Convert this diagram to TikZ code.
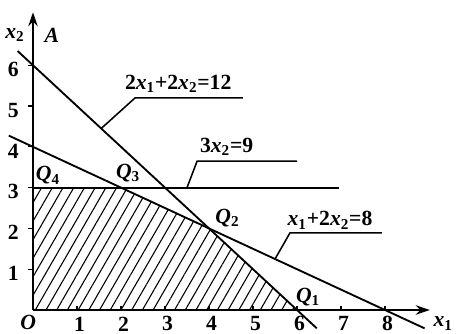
\documentclass[tikz,border=0pt]{standalone}
\usepackage{fontspec}
\setmainfont{Liberation Serif}
\usepackage{tikz}
\usetikzlibrary{arrows.meta,patterns.meta}

\newcommand{\xv}[1]{\textit{x}\textsubscript{#1}}
\newcommand{\qv}[1]{\textit{Q}\textsubscript{#1}}

\tikzset{
  lbl/.style={font=\fontsize{14pt}{16pt}\selectfont\bfseries,inner sep=0pt},
  cline/.style={line width=1.2pt},
  axis/.style={line width=1.5pt,-{Stealth[length=9pt,width=6pt]}},
}

\begin{document}
\begin{tikzpicture}[x=1cm,y=0.927cm]
\useasboundingbox (-0.75,-0.588) rectangle (9.636,7.6);

% Sommets de la region
\coordinate (vO) at (0,0);
\coordinate (vQ1) at (6,0);
\coordinate (vQ2) at (4,2);
\coordinate (vQ3) at (2,3);
\coordinate (vQ4) at (0,3);

% Region hachuree
\path[pattern={Lines[angle=60,distance=6pt,line width=0.7pt]}]
(vO) -- (vQ1) -- (vQ2) -- (vQ3) -- (vQ4) -- cycle;

% Axes
\coordinate (xend) at (9.02,0);
\coordinate (yend) at (0,7.3);
\draw[axis] (vO) -- (xend);
\draw[axis] (vO) -- (yend);

% Graduations
\foreach \i in {1,...,8} {
  \draw[line width=0.8pt] (\i,0) -- (\i,0.1);
  \node[lbl] (tx\i) at (\i+0.06,-0.34) {\i};
}
\foreach \i in {1,...,6} {
  \draw[line width=0.8pt] (0,\i) -- (-0.12,\i);
  \node[lbl] (ty\i) at (-0.45,\i-0.1) {\i};
}

% Droites
\coordinate (la) at (-0.35,6.35);
\coordinate (lb) at (6.45,-0.45);
\draw[cline] (la) -- (lb);

\coordinate (ma) at (-0.55,4.275);
\coordinate (mb) at (8.9,-0.45);
\draw[cline] (ma) -- (mb);

\coordinate (na) at (6.95,3);
\draw[cline] (vQ4) -- (na);

% Renvois
\coordinate (ra) at (1.55,4.45);
\coordinate (rb) at (2.32,5.2);
\coordinate (rc) at (4.77,5.2);
\draw[line width=1pt] (ra) -- (rb) -- (rc);

\coordinate (sa) at (3.5,3);
\coordinate (sb) at (3.73,3.65);
\coordinate (sc) at (6.0,3.65);
\draw[line width=1pt] (sa) -- (sb) -- (sc);

\coordinate (ta) at (5.5,1.25);
\coordinate (tb) at (5.84,1.89);
\coordinate (tc) at (7.93,1.89);
\draw[line width=1pt] (ta) -- (tb) -- (tc);

% Equations
\node[lbl] (eqa) at (3.3,5.55) {2\xv{1}+2\xv{2}=12};
\node[lbl] (eqb) at (4.4,4.0) {3\xv{2}=9};
\node[lbl] (eqc) at (6.75,2.2) {\xv{1}+2\xv{2}=8};

% Points
\node[lbl] (q1) at (6.25,0.32) {\qv{1}};
\node[lbl] (q2) at (4.42,2.25) {\qv{2}};
\node[lbl] (q3) at (2.16,3.36) {\qv{3}};
\node[lbl] (q4) at (0.34,3.3) {\qv{4}};

% Noms des axes
\node[lbl] (orig) at (-0.11,-0.3) {\textit{O}};
\node[lbl] (x1) at (9.32,-0.33) {\xv{1}};
\node[lbl] (x2) at (-0.41,6.74) {\xv{2}};
\node[lbl] (lA) at (0.43,6.74) {\textit{A}};

\end{tikzpicture}
\end{document}
